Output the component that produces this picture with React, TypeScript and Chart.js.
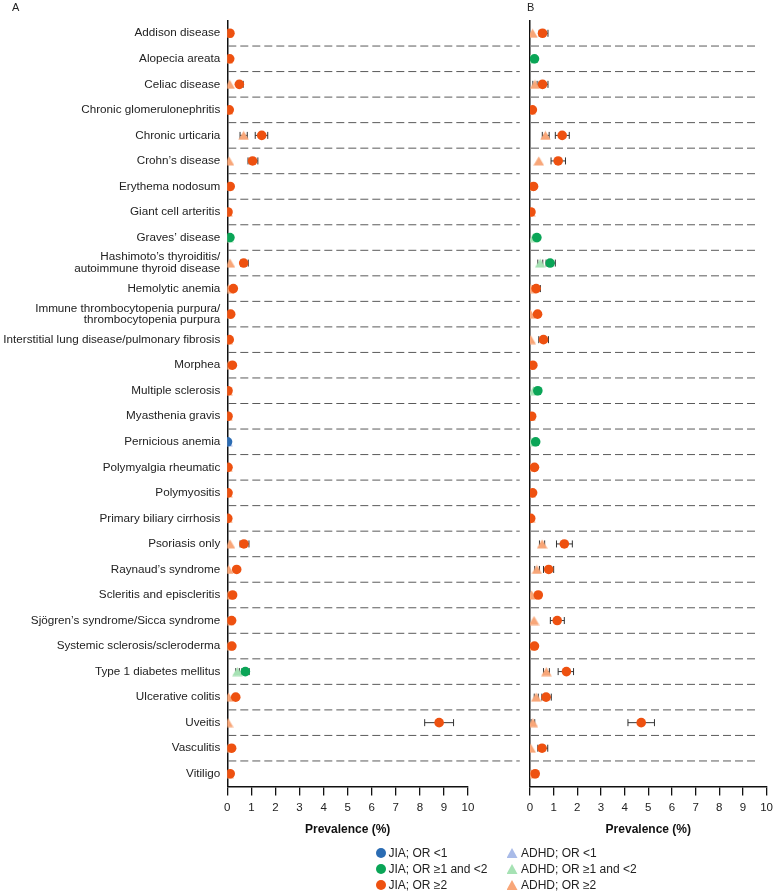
import React, { useEffect, useRef } from 'react';
import { Chart, registerables } from 'chart.js';

Chart.register(...registerables);

const FONT = "'Liberation Sans', Arial, Helvetica, sans-serif";

const categories = [
  'Addison disease', 'Alopecia areata', 'Celiac disease', 'Chronic glomerulonephritis',
  'Chronic urticaria', 'Crohn’s disease', 'Erythema nodosum', 'Giant cell arteritis',
  'Graves’ disease', 'Hashimoto’s thyroiditis/autoimmune thyroid disease', 'Hemolytic anemia',
  'Immune thrombocytopenia purpura/thrombocytopenia purpura',
  'Interstitial lung disease/pulmonary fibrosis', 'Morphea', 'Multiple sclerosis',
  'Myasthenia gravis', 'Pernicious anemia', 'Polymyalgia rheumatic', 'Polymyositis',
  'Primary biliary cirrhosis', 'Psoriasis only', 'Raynaud’s syndrome',
  'Scleritis and episcleritis', 'Sjögren’s syndrome/Sicca syndrome',
  'Systemic sclerosis/scleroderma', 'Type 1 diabetes mellitus', 'Ulcerative colitis',
  'Uveitis', 'Vasculitis', 'Vitiligo',
];

const labelBreaks: Record<string, string[]> = {
  'Hashimoto’s thyroiditis/autoimmune thyroid disease': ['Hashimoto’s thyroiditis/', 'autoimmune thyroid disease'],
  'Immune thrombocytopenia purpura/thrombocytopenia purpura': ['Immune thrombocytopenia purpura/', 'thrombocytopenia purpura'],
};

const xTicks = [0, 1, 2, 3, 4, 5, 6, 7, 8, 9, 10];

// OR class: 0 = OR <1, 1 = OR >=1 and <2, 2 = OR >=2
// ---------- Panel A ----------
const jiaA = [0.11, 0.10, 0.50, 0.08, 1.43, 1.05, 0.12, 0.03, 0.11, 0.68, 0.25, 0.14, 0.08, 0.21, 0.03,
  0.03, 0.01, 0.03, 0.03, 0.02, 0.69, 0.39, 0.22, 0.18, 0.19, 0.75, 0.35, 8.8, 0.18, 0.12];
const jiaALow = [null, null, 0.39, null, 1.16, 0.86, null, null, null, 0.56, null, null, null, null, null,
  null, null, null, null, null, 0.53, null, null, null, null, 0.61, null, 8.2, null, null];
const jiaAHigh = [null, null, 0.66, null, 1.68, 1.27, null, null, null, 0.87, null, null, null, null, null,
  null, null, null, null, null, 0.90, null, null, null, null, 0.91, null, 9.4, null, null];
const jiaAClass = [2, 2, 2, 2, 2, 2, 2, 2, 1, 2, 2, 2, 2, 2, 2, 2, 0, 2, 2, 2, 2, 2, 2, 2, 2, 1, 2, 2, 2, 2];

const adhdA = [0.02, 0.02, 0.10, 0.02, 0.68, 0.07, 0.03, 0.01, 0.03, 0.11, 0.05, 0.03, 0.02, 0.04, 0.01,
  0.01, 0.01, 0.01, 0.01, 0.01, 0.11, 0.05, 0.04, 0.03, 0.03, 0.42, 0.05, 0.03, 0.03, 0.03];
const adhdALow = [null, null, null, null, 0.53, null, null, null, null, null, null, null, null, null, null,
  null, null, null, null, null, null, null, null, null, null, 0.35, null, null, null, null];
const adhdAHigh = [null, null, null, null, 0.83, null, null, null, null, null, null, null, null, null, null,
  null, null, null, null, null, null, null, null, null, null, 0.50, null, null, null, null];
const adhdAClass = [2, 2, 2, 2, 2, 2, 2, 2, 1, 2, 2, 2, 2, 2, 2, 2, 0, 2, 2, 2, 2, 2, 2, 2, 2, 1, 2, 2, 2, 2];

// ---------- Panel B ----------
const jiaB = [0.53, 0.19, 0.53, 0.10, 1.36, 1.19, 0.15, 0.04, 0.29, 0.85, 0.26, 0.32, 0.57, 0.12, 0.33,
  0.07, 0.24, 0.19, 0.11, 0.03, 1.45, 0.79, 0.35, 1.15, 0.19, 1.54, 0.68, 4.7, 0.51, 0.22];
const jiaBLow = [0.39, null, 0.39, null, 1.07, 0.89, null, null, null, 0.68, 0.12, null, 0.37, null, null,
  null, null, null, null, null, 1.12, 0.57, null, 0.86, null, 1.19, 0.50, 4.14, 0.33, null];
const jiaBHigh = [0.76, null, 0.76, null, 1.66, 1.50, null, null, null, 1.07, 0.44, null, 0.78, null, null,
  null, null, null, null, null, 1.79, 1.00, null, 1.45, null, 1.84, 0.90, 5.26, 0.75, null];
const jiaBClass = [2, 1, 2, 2, 2, 2, 2, 2, 1, 1, 2, 2, 2, 2, 1, 2, 1, 2, 2, 2, 2, 2, 2, 2, 2, 2, 2, 2, 2, 2];

const adhdB = [0.11, 0.03, 0.21, 0.02, 0.65, 0.37, 0.03, 0.01, 0.15, 0.43, 0.03, 0.02, 0.03, 0.02, 0.15,
  0.02, 0.08, 0.02, 0.02, 0.01, 0.51, 0.29, 0.07, 0.17, 0.02, 0.69, 0.26, 0.12, 0.03, 0.05];
const adhdBLow = [null, null, 0.12, null, 0.52, null, null, null, null, 0.33, null, null, null, null, null,
  null, null, null, null, null, 0.40, 0.20, null, null, null, 0.57, 0.18, 0.05, null, null];
const adhdBHigh = [null, null, 0.30, null, 0.81, null, null, null, null, 0.54, null, null, null, null, null,
  null, null, null, null, null, 0.62, 0.40, null, null, null, 0.82, 0.35, 0.20, null, null];
const adhdBClass = [2, 1, 2, 2, 2, 2, 2, 2, 1, 1, 2, 2, 2, 2, 1, 2, 1, 2, 2, 2, 2, 2, 2, 2, 2, 2, 2, 2, 2, 2];

const jiaColors = ['#2b6cb3', '#0aa557', '#ee5110'];
const adhdColors = ['#a9bbe8', '#a6e2b4', '#f8a678'];

const legendItems = [
  ['circle', 0, 'JIA; OR <1'], ['triangle', 0, 'ADHD; OR <1'],
  ['circle', 1, 'JIA; OR ≥1 and <2'], ['triangle', 1, 'ADHD; OR ≥1 and <2'],
  ['circle', 2, 'JIA; OR ≥2'], ['triangle', 2, 'ADHD; OR ≥2'],
];

function makeTriangle(color: string): HTMLCanvasElement {
  const c = document.createElement('canvas');
  c.width = 11;
  c.height = 10;
  const g = c.getContext('2d') as CanvasRenderingContext2D;
  g.fillStyle = color;
  g.beginPath();
  g.moveTo(5.5, 0.4);
  g.lineTo(10.8, 9.6);
  g.lineTo(0.2, 9.6);
  g.closePath();
  g.fill();
  return c;
}

const separatorPlugin = {
  id: 'separators',
  beforeDatasetsDraw(chart: any, _args: any, opts: any) {
    const ys = chart.scales.y;
    const xs = chart.scales.x;
    const ctx = chart.ctx;
    const x0 = xs.getPixelForValue(0) + 1;
    const x1 = xs.getPixelForValue(opts.endValue);
    ctx.save();
    ctx.strokeStyle = '#5a5a5a';
    ctx.lineWidth = 1;
    ctx.setLineDash([8, 4]);
    for (let i = 0; i < categories.length - 1; i++) {
      const py = (ys.getPixelForValue(i) + ys.getPixelForValue(i + 1)) / 2;
      ctx.beginPath();
      ctx.moveTo(x0, py);
      ctx.lineTo(x1, py);
      ctx.stroke();
    }
    ctx.restore();
  },
};

const errorBarPlugin = {
  id: 'errorBars',
  beforeDatasetsDraw(chart: any) {
    const ctx = chart.ctx;
    const xs = chart.scales.x;
    ctx.save();
    ctx.strokeStyle = '#333333';
    ctx.lineWidth = 1;
    chart.data.datasets.forEach((ds: any, di: number) => {
      if (!ds.ciLow) return;
      const meta = chart.getDatasetMeta(di);
      meta.data.forEach((pt: any, j: number) => {
        const lo = ds.ciLow[j];
        const hi = ds.ciHigh[j];
        if (lo == null || hi == null) return;
        const a = xs.getPixelForValue(lo);
        const b = xs.getPixelForValue(hi);
        const y = pt.y;
        ctx.beginPath();
        ctx.moveTo(a, y); ctx.lineTo(b, y);
        ctx.moveTo(a, y - 3.5); ctx.lineTo(a, y + 3.5);
        ctx.moveTo(b, y - 3.5); ctx.lineTo(b, y + 3.5);
        ctx.stroke();
      });
    });
    ctx.restore();
  },
};

function buildConfig(p: any): any {
  const triangles = adhdColors.map(makeTriangle);
  return {
    type: 'scatter',
    data: {
      datasets: [
        {
          label: 'JIA',
          data: p.jia.map((v: number, i: number) => ({ x: v, y: categories[i] })),
          pointStyle: 'circle',
          pointRadius: 4.8,
          pointHoverRadius: 4.8,
          pointBackgroundColor: p.jiaCls.map((c: number) => jiaColors[c]),
          pointBorderColor: p.jiaCls.map((c: number) => jiaColors[c]),
          pointBorderWidth: 0,
          order: 0,
          ciLow: p.jiaLo,
          ciHigh: p.jiaHi,
        },
        {
          label: 'ADHD',
          data: p.adhd.map((v: number, i: number) => ({ x: v, y: categories[i] })),
          pointStyle: p.adhdCls.map((c: number) => triangles[c]),
          pointRadius: 5.5,
          pointHoverRadius: 5.5,
          pointBackgroundColor: p.adhdCls.map((c: number) => adhdColors[c]),
          pointBorderWidth: 0,
          order: 1,
          ciLow: p.adhdLo,
          ciHigh: p.adhdHi,
        },
      ],
    },
    options: {
      animation: false,
      responsive: false,
      maintainAspectRatio: false,
      layout: { padding: p.padding },
      plugins: {
        legend: { display: false },
        tooltip: { enabled: false },
        separators: { endValue: p.sepEnd },
      },
      scales: {
        x: {
          type: 'linear',
          min: 0,
          max: 10,
          afterBuildTicks: (s: any) => { s.ticks = xTicks.map((v) => ({ value: v })); },
          afterFit: (s: any) => { s.height = 50; },
          grid: { drawOnChartArea: false, drawTicks: true, tickLength: 9, color: '#111', lineWidth: 1.3 },
          border: { display: true, color: '#111', width: 1.5 },
          ticks: { color: '#222', padding: 5, autoSkip: false, maxRotation: 0, font: { family: FONT, size: 11.5 } },
          title: {
            display: true,
            text: 'Prevalence (%)',
            color: '#111',
            padding: { top: 0, bottom: 0 },
            font: { family: FONT, size: 12, weight: 'bold' },
          },
        },
        y: {
          type: 'category',
          labels: categories,
          offset: true,
          afterFit: (s: any) => { s.width = p.yWidth; },
          grid: { display: false, drawTicks: false },
          border: { display: true, color: '#111', width: 1.5 },
          ticks: {
            display: p.showLabels,
            autoSkip: false,
            padding: 7,
            color: '#222',
            font: { family: FONT, size: 11.7, lineHeight: 1.0 },
            callback: function (this: any, value: any) {
              const l = this.getLabelForValue(value);
              return labelBreaks[l] || l;
            },
          },
        },
      },
    },
    plugins: [separatorPlugin, errorBarPlugin],
  };
}

export default function App() {
  const refA = useRef<HTMLCanvasElement>(null);
  const refB = useRef<HTMLCanvasElement>(null);

  useEffect(() => {
    const cA = new Chart(refA.current as HTMLCanvasElement, buildConfig({
      jia: jiaA, jiaLo: jiaALow, jiaHi: jiaAHigh, jiaCls: jiaAClass,
      adhd: adhdA, adhdLo: adhdALow, adhdHi: adhdAHigh, adhdCls: adhdAClass,
      showLabels: true, yWidth: 227.3, sepEnd: 12.15,
      padding: { left: 0, right: 310, top: 20.5, bottom: 55.5 },
    }));
    const cB = new Chart(refB.current as HTMLCanvasElement, buildConfig({
      jia: jiaB, jiaLo: jiaBLow, jiaHi: jiaBHigh, jiaCls: jiaBClass,
      adhd: adhdB, adhdLo: adhdBLow, adhdHi: adhdBHigh, adhdCls: adhdBClass,
      showLabels: false, yWidth: 0, sepEnd: 9.68,
      padding: { left: 530, right: 7.4, top: 20.5, bottom: 55.5 },
    }));
    return () => { cA.destroy(); cB.destroy(); };
  }, []);

  const canvasStyle: React.CSSProperties = { position: 'absolute', left: 0, top: 0, width: 778, height: 892 };

  return (
    <div style={{ position: 'absolute', left: 0, top: 0, width: 778, height: 892, background: '#fff', overflow: 'hidden', fontFamily: FONT }}>
      <canvas ref={refA} width={778} height={892} style={canvasStyle} />
      <canvas ref={refB} width={778} height={892} style={canvasStyle} />
      <div style={{ position: 'absolute', left: 12, top: 1, fontSize: 11, color: '#222', lineHeight: '12px' }}>A</div>
      <div style={{ position: 'absolute', left: 527, top: 1, fontSize: 11, color: '#222', lineHeight: '12px' }}>B</div>
      {legendItems.map((it, i) => {
        const col = i % 2;
        const row = Math.floor(i / 2);
        const cx = col === 0 ? 381 : 512;
        const cy = 853 + row * 16;
        const shape = it[0];
        const cls = it[1] as number;
        return (
          <div key={i}>
            {shape === 'circle' ? (
              <div style={{ position: 'absolute', left: cx - 5, top: cy - 5, width: 10, height: 10, borderRadius: 5, background: jiaColors[cls] }} />
            ) : (
              <div style={{ position: 'absolute', left: cx - 5.5, top: cy - 5, width: 11, height: 10, background: adhdColors[cls], clipPath: 'polygon(50% 0, 100% 100%, 0 100%)' }} />
            )}
            <div style={{ position: 'absolute', left: cx + (shape === 'circle' ? 7.5 : 9), top: cy - 8, fontSize: 12, lineHeight: '16px', color: '#222', whiteSpace: 'nowrap' }}>
              {it[2] as string}
            </div>
          </div>
        );
      })}
    </div>
  );
}
